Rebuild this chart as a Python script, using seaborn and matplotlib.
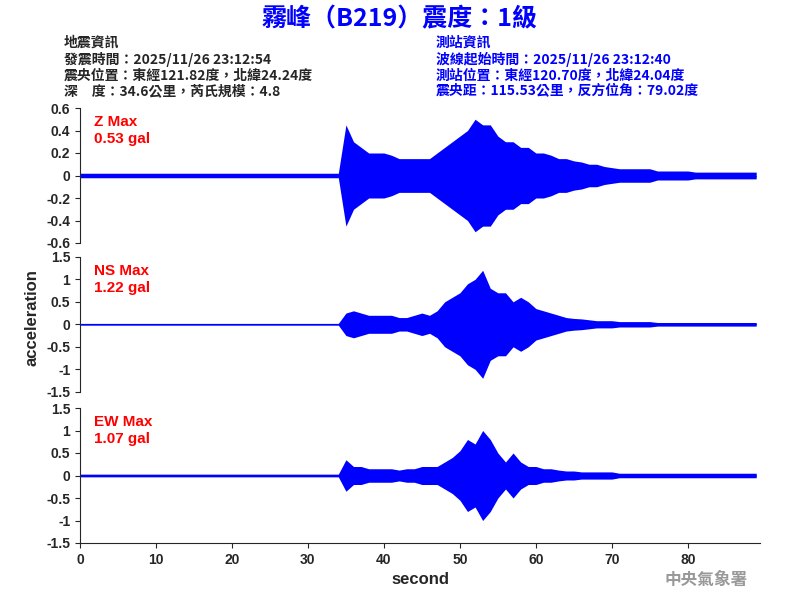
import numpy as np
import pandas as pd
import seaborn as sns
import matplotlib.pyplot as plt

sns.set_style("ticks")
plt.rcParams['font.family'] = ['Liberation Sans', 'Noto Sans CJK TC', 'DejaVu Sans']

# per-second peak amplitude (gal), seconds 0..89
z_amp = [0.02]*35 + [0.45,0.3,0.25,0.2,0.2,0.2,0.18,0.15,0.15,0.15,0.15,0.15,0.2,0.25,0.3,0.35,0.4,0.5,0.45,0.45,
         0.35,0.3,0.3,0.25,0.25,0.2,0.2,0.18,0.15,0.15,0.13,0.12,0.1,0.1,0.08,0.07] + [0.06]*5 + [0.04]*5 + [0.03]*9
ns_amp = [0.02]*35 + [0.25,0.3,0.25,0.2,0.2,0.2,0.2,0.15,0.15,0.2,0.25,0.2,0.3,0.5,0.6,0.7,0.9,1.0,1.2,0.8,
          0.7,0.7,0.5,0.6,0.5,0.35,0.3,0.25,0.2,0.15,0.13,0.12,0.1,0.08,0.08,0.08] + [0.06]*5 + [0.04]*14
ew_amp = [0.03]*35 + [0.35,0.2,0.2,0.15,0.15,0.15,0.15,0.12,0.15,0.15,0.2,0.2,0.2,0.3,0.4,0.55,0.8,0.7,1.0,0.8,
          0.5,0.3,0.5,0.3,0.2,0.2,0.15,0.15,0.12,0.1,0.1] + [0.08]*5 + [0.05]*19
seconds = list(range(90))

panels = [("Z Max\n0.53 gal", z_amp, [-0.6,-0.4,-0.2,0,0.2,0.4,0.6], ["-0.6","-0.4","-0.2","0","0.2","0.4","0.6"], (-0.6,0.6)),
          ("NS Max\n1.22 gal", ns_amp, [-1.5,-1,-0.5,0,0.5,1,1.5], ["-1.5","-1","-0.5","0","0.5","1","1.5"], (-1.5,1.5)),
          ("EW Max\n1.07 gal", ew_amp, [-1.5,-1,-0.5,0,0.5,1,1.5], ["-1.5","-1","-0.5","0","0.5","1","1.5"], (-1.5,1.5))]

fig = plt.figure(figsize=(8,6), dpi=100)
bottoms = [0.595, 0.347, 0.095]
for i, (lab, amp, ticks, tl, ylim) in enumerate(panels):
    ax = fig.add_axes([0.1, bottoms[i], 0.85, 0.225])
    df = pd.DataFrame({"t": seconds, "a": amp})
    ax.fill_between(df["t"], -df["a"], df["a"], color="blue", lw=0)
    sns.lineplot(data=df, x="t", y=0*df["a"], ax=ax, color="blue", lw=1.2 if i == 2 else 0.6)
    ax.set_xlim(0, 89.5); ax.set_ylim(*ylim)
    ax.set_yticks(ticks); ax.set_yticklabels(tl, fontsize=10, fontweight='bold')
    ax.set_ylabel(""); ax.set_xlabel("")
    ax.text(0.02, 0.95, lab, transform=ax.transAxes, color="red", fontsize=11, fontweight='bold', va='top', linespacing=1.3)
    sns.despine(ax=ax, top=True, right=True, bottom=(i < 2))
    if i < 2:
        ax.set_xticks([])
    else:
        ax.set_xticks(range(0, 90, 10))
        ax.set_xticklabels([str(v) for v in range(0, 90, 10)], fontsize=10, fontweight='bold')
        ax.set_xlabel("second", fontsize=12, fontweight='bold')

fig.text(0.04, 0.47, "acceleration", rotation=90, fontsize=12, fontweight='bold', va='center', ha='center')
fig.text(0.5, 0.968, "霧峰（B219）震度：1級", color="blue", fontsize=18, fontweight='bold', ha='center', va='center',
         family=['Noto Sans CJK TC'])
left = "地震資訊\n發震時間：2025/11/26 23:12:54\n震央位置：東經121.82度，北緯24.24度\n深　度：34.6公里，芮氏規模：4.8"
right = "測站資訊\n波線起始時間：2025/11/26 23:12:40\n測站位置：東經120.70度，北緯24.04度\n震央距：115.53公里，反方位角：79.02度"
fig.text(0.08, 0.94, left, fontsize=10, fontweight='bold', va='top', linespacing=1.15, family=['Noto Sans CJK TC'])
fig.text(0.545, 0.94, right, fontsize=10, fontweight='bold', va='top', color="blue", linespacing=1.15, family=['Noto Sans CJK TC'])
fig.text(0.935, 0.025, "中央氣象署", fontsize=12, fontweight='bold', color="#999999", ha='right', family=['Noto Sans CJK TC'])
fig.savefig("out.png", dpi=100)
